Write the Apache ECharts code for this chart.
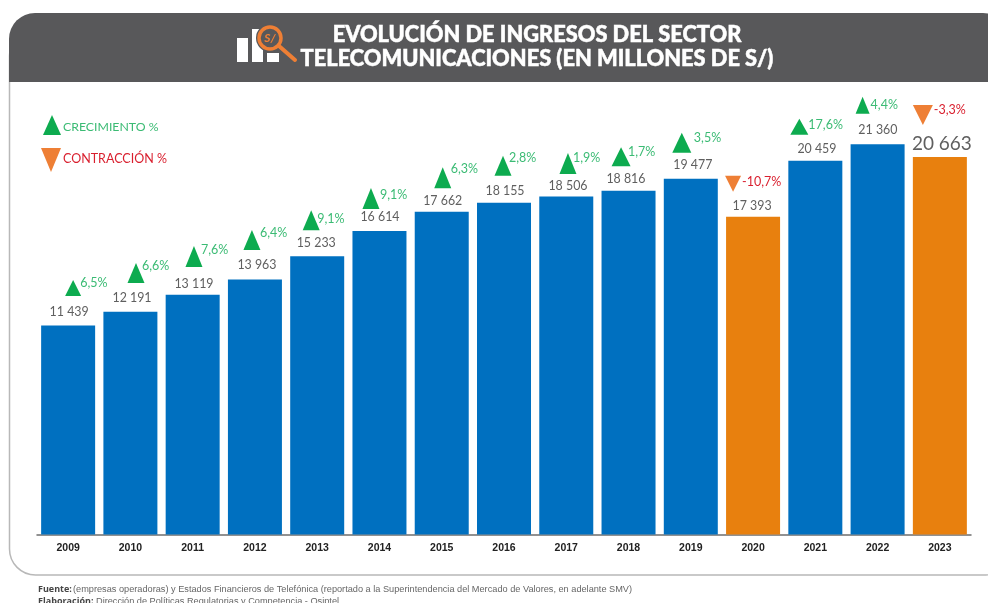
<!DOCTYPE html>
<html>
<head>
<meta charset="utf-8">
<style>
  html, body { margin: 0; padding: 0; background: #fff; }
  #chart { width: 988px; height: 603px; }
</style>
<script src="https://cdn.jsdelivr.net/npm/echarts@6/dist/echarts.min.js"></script>
</head>
<body>
<div id="chart"></div>
<script>
const years = ['2009', '2010', '2011', '2012', '2013', '2014', '2015', '2016', '2017', '2018', '2019', '2020', '2021', '2022', '2023']
const ingresos = [11439, 12191, 13119, 13963, 15233, 16614, 17662, 18155, 18506, 18816, 19477, 17393, 20459, 21360, 20663]
const variacion = ['6,5%', '6,6%', '7,6%', '6,4%', '9,1%', '9,1%', '6,3%', '2,8%', '1,9%', '1,7%', '3,5%', '-10,7%', '17,6%', '4,4%', '-3,3%']

// hand placed offsets, px from the top centre of each bar
const valueLabelOffset = [[1, -13], [1.6, -13.3], [1.3, -11.3], [2, -13.9], [-1, -12.7], [0.5, -13.5], [1, -11.3], [1, -11.3], [1.7, -9.9], [-2.6, -12.2], [2, -13.2], [-1, -11.2], [1.6, -11.2], [0.3, -13.8], [2, -14]]
const markerOffset = [[5, -37.5], [5.6, -38.8], [1.3, -38.3], [-3, -39.4], [-6, -36], [-8.5, -32.5], [1, -34], [-1, -37], [1.7, -33], [-7.5, -34], [-9, -36], [-20, -33], [-16, -34], [-15, -39], [-17, -42]]
const markerSize = [[16, 16], [17, 20], [17, 21], [17, 20], [17, 20], [17, 21], [17, 21], [17, 20], [17, 21], [19, 19], [19, 20], [16, 16], [18, 16], [14, 17], [20, 20]]
const growthLabelOffset = [[7, -5], [6, -7], [7, -6.5], [8, -7], [6, -1], [9, -3.5], [8, -8.5], [6, -8], [5, -5.5], [7, -4.5], [12, -5], [9, -2], [9, -2], [8, -0.5], [11, -5]]

const BLUE = '#0070c0'
const ORANGE = '#e8800e'
const GREEN_MARK = '#0dab4f'
const ORANGE_MARK = '#ee7f35'
const GREEN_TEXT = '#3bbb74'
const RED_TEXT = '#d91f2e'
const GREY_TEXT = '#5f5f5f'
const FONT = 'Lato, "Open Sans", sans-serif'
const contraction = (i) => variacion[i].startsWith('-')
const isOrange = (i) => years[i] === '2020' || years[i] === '2023'

const renderMarker = (params, api) => {
  const i = api.value(0)
  const top = api.coord([i, api.value(1)])
  const cx = top[0] + markerOffset[i][0]
  const cy = top[1] + markerOffset[i][1]
  const w = markerSize[i][0] / 2
  const h = markerSize[i][1] / 2
  const down = contraction(i)
  const points = down
    ? [[cx - w, cy - h], [cx + w, cy - h], [cx, cy + h]]
    : [[cx - w, cy + h], [cx + w, cy + h], [cx, cy - h]]
  return {
    type: 'group',
    children: [
      { type: 'polygon', shape: { points }, style: { fill: down ? ORANGE_MARK : GREEN_MARK } },
      {
        type: 'text',
        x: cx + growthLabelOffset[i][0],
        y: cy + growthLabelOffset[i][1],
        style: {
          text: variacion[i],
          fill: down ? RED_TEXT : GREEN_TEXT,
          font: '12.5px ' + FONT,
          align: 'left',
          verticalAlign: 'middle'
        }
      }
    ]
  }
}

const titleStyle = (text) => ({ text, fill: '#fff', stroke: '#fff', lineWidth: 0.5, font: '900 21.8px ' + FONT, align: 'center', verticalAlign: 'middle' })

const chart = echarts.init(document.getElementById('chart'), null, { renderer: 'canvas' })
chart.setOption({
  animation: false,
  backgroundColor: '#fff',
  grid: { left: 37, right: 17, top: 96, bottom: 68.5 },
  xAxis: {
    type: 'category',
    data: years,
    axisLine: { lineStyle: { color: '#6e6e6e', width: 1.5 } },
    axisTick: { show: false },
    axisLabel: { color: '#222', fontFamily: '"Liberation Sans", sans-serif', fontWeight: 'bold', fontSize: 10.5, margin: 8 }
  },
  yAxis: { type: 'value', min: 0, max: 24000, show: false },
  series: [
    {
      type: 'bar',
      barWidth: 54,
      data: ingresos.map((value, i) => ({
        value,
        itemStyle: { color: isOrange(i) ? ORANGE : BLUE },
        label: {
          show: true,
          position: 'top',
          distance: 0,
          offset: [valueLabelOffset[i][0], valueLabelOffset[i][1] + (i === 14 ? 10 : 6)],
          fontSize: i === 14 ? 19 : 12.4,
          color: GREY_TEXT,
          fontFamily: FONT,
          formatter: String(value).slice(0, -3) + ' ' + String(value).slice(-3)
        }
      }))
    },
    {
      type: 'custom',
      renderItem: renderMarker,
      data: ingresos.map((value, i) => [i, value]),
      encode: { x: 0, y: 1 },
      z: 5
    }
  ],
  graphic: [
    { type: 'rect', z: -2, shape: { x: 9.5, y: 30, width: 1000, height: 545, r: 26 }, style: { fill: '#fff', stroke: '#b8b8b8', lineWidth: 1.5 } },
    { type: 'rect', z: -1, shape: { x: 9, y: 13, width: 1000, height: 69, r: [26, 26, 0, 0] }, style: { fill: '#58585a' } },
    // icon
    { type: 'rect', shape: { x: 237, y: 38, width: 11, height: 24 }, style: { fill: '#fff' } },
    { type: 'rect', shape: { x: 252, y: 29, width: 11, height: 33 }, style: { fill: '#fff' } },
    { type: 'rect', shape: { x: 267, y: 53, width: 12, height: 9 }, style: { fill: '#fff' } },
    { type: 'circle', shape: { cx: 270, cy: 38, r: 14 }, style: { fill: '#58585a' } },
    { type: 'circle', shape: { cx: 270, cy: 38, r: 11 }, style: { fill: '#58585a', stroke: ORANGE_MARK, lineWidth: 3.5 } },
    { type: 'line', shape: { x1: 279, y1: 46, x2: 295, y2: 60 }, style: { stroke: ORANGE_MARK, lineWidth: 4, lineCap: 'round' } },
    { type: 'text', x: 270, y: 38, style: { text: 'S/', fill: ORANGE_MARK, font: 'italic bold 12px ' + FONT, align: 'center', verticalAlign: 'middle' } },
    // title
    { type: 'text', x: 537, y: 35, style: titleStyle('EVOLUCIÓN DE INGRESOS DEL SECTOR') },
    { type: 'text', x: 537, y: 59, style: titleStyle('TELECOMUNICACIONES (EN MILLONES DE S/)') },
    // legend
    { type: 'polygon', shape: { points: [[43, 135], [61, 135], [52, 115]] }, style: { fill: GREEN_MARK } },
    { type: 'text', x: 63, y: 127, style: { text: 'CRECIMIENTO %', fill: GREEN_TEXT, font: '12.3px ' + FONT, verticalAlign: 'middle' } },
    { type: 'polygon', shape: { points: [[41, 148], [61, 148], [51, 172]] }, style: { fill: ORANGE_MARK } },
    { type: 'text', x: 63, y: 159, style: { text: 'CONTRACCIÓN %', fill: RED_TEXT, font: '12.5px ' + FONT, verticalAlign: 'middle' } },
    // footer
    { type: 'text', x: 38, y: 589, style: { text: 'Fuente:', fill: '#444', font: 'bold 9px "Open Sans", sans-serif', verticalAlign: 'middle' } },
    { type: 'text', x: 73, y: 589, style: { text: '(empresas operadoras) y Estados Financieros de Telefónica (reportado a la Superintendencia del Mercado de Valores, en adelante SMV)', fill: '#666', font: '9.2px "Liberation Sans", sans-serif', verticalAlign: 'middle' } },
    { type: 'text', x: 38, y: 601, style: { text: 'Elaboración:', fill: '#444', font: 'bold 9px "Open Sans", sans-serif', verticalAlign: 'middle' } },
    { type: 'text', x: 96, y: 601, style: { text: 'Dirección de Políticas Regulatorias y Competencia - Osiptel', fill: '#666', font: '9.2px "Liberation Sans", sans-serif', verticalAlign: 'middle' } }
  ]
})
</script>
</body>
</html>
